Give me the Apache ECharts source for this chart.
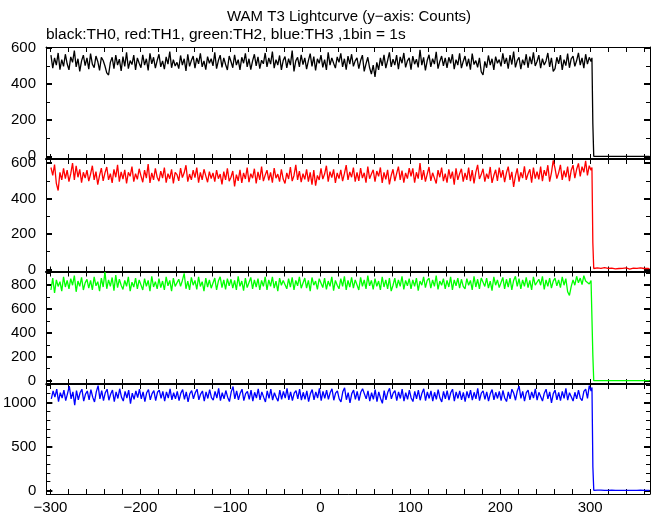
<!DOCTYPE html>
<html><head><meta charset="utf-8">
<script src="https://cdn.jsdelivr.net/npm/echarts@6/dist/echarts.min.js"></script>
<style>html,body{margin:0;padding:0;background:#fff}#c{width:652px;height:515px}</style>
</head><body><div id="c"></div>
<script>
// Main part: bins from -299 s, values read every 2 s from the picture
const T_START = -299;
const T_STEP = 2;
// Tail times (s): end of the light curve, the drop, then the flat part
const tTail = [302,303,304,306,308,310,312,314,316,318,320,322,324,326,328,330,332,334,336,338,340,342,344,346,348,350,352,354,356,358,360,362,364,366];

// TH0 (black) counts
const th0 = [
560,488,545,505,572,480,535,498,565,512,
478,550,520,585,495,540,470,528,560,502,
545,482,568,510,490,555,525,475,548,530,
500,462,450,520,548,485,560,505,538,472,
552,498,575,485,530,508,560,478,545,515,
490,562,505,540,475,570,512,548,488,530,
565,495,528,482,550,510,580,490,535,500,
520,485,558,505,540,472,565,498,530,555,
488,545,512,570,495,528,480,552,515,540,
500,575,485,530,560,492,545,508,478,555,
525,490,562,505,535,478,548,515,570,495,
540,480,528,565,500,550,485,532,512,572,
495,545,510,580,488,535,505,558,478,530,
552,490,540,505,585,470,528,548,495,562,
508,545,482,530,568,498,552,475,540,515,
560,492,535,478,575,505,545,515,488,550,
520,570,495,540,480,555,510,565,498,528,
545,485,530,560,470,512,548,490,455,505,
440,520,478,545,500,562,488,530,575,495,
538,505,560,482,550,515,572,492,528,545,
480,555,510,538,492,590,505,548,475,530,
562,495,540,510,578,485,525,555,500,545,
490,548,515,565,482,535,505,570,488,525,
555,498,540,480,568,508,530,492,545,468,
450,525,490,558,505,540,478,552,515,535,
498,570,512,545,485,560,508,580,492,530,
548,482,535,505,565,490,552,510,575,500,
525,560,488,540,505,528,572,495,545,470,
485,548,512,560,478,535,502,568,490,540,
555,498,530,572,505,545,488,565,510,548,
525
];
const th0Tail = [545,180,0,0,0,0,0,0,0,0,0,0,0,0,0,0,0,0,0,0,0,0,0,0,0,0,0,0,0,0,0,0,0,0];

// TH1 (red) counts
const th1 = [
575,530,592,485,445,548,505,570,512,560,
495,540,600,505,585,520,565,490,548,515,
560,498,538,585,505,552,478,530,572,500,
545,578,505,540,488,565,520,590,495,550,
510,562,485,548,525,580,495,540,508,568,
528,492,560,515,595,488,545,505,570,520,
498,555,515,575,490,540,512,565,485,548,
535,500,572,518,545,588,495,538,505,560,
518,575,490,548,505,565,528,492,552,512,
545,495,560,512,538,480,552,505,570,498,
520,555,468,535,500,562,488,545,510,575,
492,540,515,568,485,550,505,580,498,532,
560,502,548,490,572,515,538,495,565,510,
485,545,510,578,498,530,590,505,555,492,
540,508,565,495,548,478,560,472,530,505,
570,510,538,585,495,552,518,565,488,545,
512,562,498,540,588,505,550,520,575,495,
548,500,572,515,545,490,580,512,538,562,
495,555,525,575,488,548,508,562,480,530,
565,498,540,580,505,558,490,545,512,572,
525,570,490,548,512,600,505,560,495,538,
578,500,545,515,485,560,520,575,498,540,
490,565,512,552,478,570,505,540,568,495,
545,505,575,498,560,485,548,590,510,535,
568,495,540,512,578,488,530,562,500,575,
518,560,492,545,580,505,550,465,528,570,
495,548,515,582,505,540,565,490,575,512,
552,508,580,498,560,528,588,495,545,615,
570,512,545,590,505,558,520,580,498,560,
588,515,565,598,525,580,548,612,530,585,
560
];
const th1Tail = [575,150,5,3,8,2,6,4,10,3,5,2,7,4,3,9,5,2,6,3,8,4,2,5,7,3,6,4,9,3,5,2,6,4];

// TH2 (green) counts
const th2 = [
760,860,735,845,790,830,750,870,785,840,
770,855,800,880,745,835,790,865,760,820,
850,775,840,760,870,795,830,750,860,785,
910,770,845,790,865,755,885,780,850,800,
765,840,790,870,750,825,785,860,770,845,
830,760,855,790,840,750,875,785,830,770,
855,780,835,760,870,795,840,750,860,790,
775,850,790,840,900,770,835,760,865,800,
840,765,870,790,830,750,860,785,845,775,
790,860,760,835,870,780,845,765,855,795,
850,775,840,760,875,790,835,755,860,780,
795,865,770,845,785,855,760,840,790,870,
760,845,790,870,775,835,750,860,800,840,
830,770,855,785,865,760,840,795,870,775,
790,860,775,840,750,865,800,835,765,855,
845,780,860,765,835,790,870,755,840,800,
770,855,790,875,760,840,785,865,775,845,
835,760,865,790,845,770,880,795,840,765,
855,790,835,760,870,785,845,770,860,750,
800,860,775,845,790,875,765,840,795,855,
770,845,790,860,755,835,800,870,780,840,
860,775,845,790,880,765,835,800,855,770,
840,785,870,760,845,795,860,775,850,790,
770,855,800,840,760,875,785,850,770,860,
845,790,860,775,835,755,870,800,845,780,
795,865,770,850,785,860,760,840,875,790,
855,770,845,790,865,780,840,760,870,800,
785,850,800,875,765,845,790,860,775,835,
860,795,845,780,870,800,855,745,715,790,
845,800,875,820,860,805,880,835,850,810,
840
];
const th2Tail = [830,214,0,0,0,0,0,0,0,0,0,0,0,0,0,0,0,0,0,0,0,0,0,0,0,0,0,0,0,0,0,0,0,0];

// TH3 (blue) counts
const th3 = [
1040,1130,1060,1150,1010,1110,1050,1140,1020,1100,
1185,1040,1120,970,1135,1030,1110,1150,1015,1095,
1130,1030,1145,1060,1005,1120,1190,1040,1135,1020,
1110,1150,1025,1095,1140,1010,1120,1045,1155,1060,
1015,1125,1050,1140,985,1105,1035,1130,1055,1150,
1040,1120,1010,1110,1145,1030,1100,1135,1020,1115,
1140,1045,1125,1015,1120,1050,1155,1030,1110,1040,
1125,1020,1105,1145,1035,1120,1005,1100,1135,1040,
1110,1150,1030,1095,1130,1015,1120,1045,1145,1055,
1025,1125,1050,1160,1020,1110,1040,1135,1060,1010,
1120,1180,1040,1130,1030,1105,1150,1020,1100,1125,
1035,1140,1015,1115,1050,1155,1030,1120,1060,1005,
1130,1045,1150,1025,1110,1055,1015,1140,1035,1125,
1050,1160,1030,1120,1020,1105,1135,1040,1150,1025,
1115,1035,1130,1010,1100,1145,1030,1120,1050,1160,
1020,1125,1045,1140,1035,1110,1155,1025,1105,1130,
1040,1005,1120,1165,1030,1110,995,1100,1140,1035,
1125,1020,1115,1155,1175,1040,1130,1015,1110,1035,
1145,1010,1120,1045,990,1135,1030,1115,1160,1040,
1105,1135,1020,1120,1045,1150,1015,1110,1035,1140,
1050,1010,1125,1040,1140,1025,1105,1155,1020,1120,
1045,1130,1015,1115,1035,1145,1050,1005,1125,1040,
1135,1025,1110,1150,1015,1120,1045,1130,1030,1115,
1010,1125,1050,1140,1025,1115,1040,1160,1020,1105,
1130,1035,1120,1015,1100,1145,1030,1115,1045,1125,
1020,1135,1050,1010,1120,1040,1150,1105,1025,1130,
1185,1045,1125,1015,1110,1140,1030,1120,1050,1155,
1025,1115,1135,1015,1105,1150,1040,1120,995,1100,
1140,1030,1115,1020,1125,1045,1160,1025,1110,1130,
1015,1115,1040,1140,1050,1020,1125,1150,1045,1190,
1130
];
const th3Tail = [1170,267,3,2,4,3,5,2,3,4,2,3,5,3,2,4,3,2,3,5,2,4,3,2,3,4,2,3,5,2,3,4,3,2];

// Axis ranges / tick values
const X_MIN = -304.5, X_MAX = 366.5;
const xTicks = [-300,-280,-260,-240,-220,-200,-180,-160,-140,-120,-100,-80,-60,-40,-20,0,20,40,60,80,100,120,140,160,180,200,220,240,260,280,300,320,340,360];
const xLabels = [-300,-200,-100,0,100,200,300];

const yRanges = [[-15,605],[-12,623],[-28,915],[-39,1209]];
const yMajor = [[0,200,400,600],[0,200,400,600],[0,200,400,600,800],[0,500,1000]];
const yMinor = [[100,300,500],[100,300,500],[100,300,500,700,900],[100,200,300,400,600,700,800,900,1100,1200]];

const seriesNames = ['TH0','TH1','TH2','TH3'];
const seriesColors = ['#000000','#ff0000','#00ff00','#0000ff'];
const seriesMain = [th0, th1, th2, th3];
const seriesTail = [th0Tail, th1Tail, th2Tail, th3Tail];

// layout
const gridTops = [47, 159, 271.5, 384];
const gridHeights = [112, 112.5, 112.5, 112];
const FONT = '"Liberation Sans", Arial, sans-serif';

const grid = [], xAxis = [], yAxis = [], series = [];
for (let i = 0; i < 4; i++) {
  grid.push({left: 46, width: 604, top: gridTops[i], height: gridHeights[i], containLabel: false});
  ['bottom','top'].forEach(pos => {
    const w = (pos === 'top' && i > 0) ? 2 : 1;
    xAxis.push({
      type: 'value', gridIndex: i, position: pos, min: X_MIN, max: X_MAX,
      axisLine: {show: true, onZero: false, lineStyle: {color: '#000', width: w}}, splitLine: {show: false},
      axisTick: {show: true, inside: true, length: 5, customValues: xTicks, lineStyle: {color: '#000'}},
      axisLabel: {show: (i === 3 && pos === 'bottom'), customValues: xLabels, margin: 6,
        color: '#000', fontFamily: FONT, fontSize: 15,
        formatter: v => String(v).replace('-', '\u2212')}
    });
  });
  ['left','right'].forEach(pos => {
    yAxis.push({
      type: 'value', gridIndex: i, position: pos, min: yRanges[i][0], max: yRanges[i][1],
      axisLine: {show: true, onZero: false, lineStyle: {color: '#000', width: 1}}, splitLine: {show: false},
      axisTick: {show: true, inside: true, length: 6, customValues: yMajor[i], lineStyle: {color: '#000', width: 2}},
      axisLabel: {show: pos === 'left', customValues: yMajor[i], margin: 10,
        color: '#000', fontFamily: FONT, fontSize: 15, formatter: v => String(v)}
    });
    yAxis.push({
      type: 'value', gridIndex: i, position: pos, min: yRanges[i][0], max: yRanges[i][1],
      axisLine: {show: false, onZero: false}, splitLine: {show: false},
      axisTick: {show: true, inside: true, length: 4, customValues: yMinor[i], lineStyle: {color: '#000', width: 1}},
      axisLabel: {show: false}
    });
  });
  const pts = seriesMain[i].map((v, k) => [T_START + T_STEP * k, v])
    .concat(seriesTail[i].map((v, k) => [tTail[k], v]));
  series.push({
    name: seriesNames[i], type: 'line', xAxisIndex: 2 * i, yAxisIndex: 4 * i,
    data: pts, showSymbol: false, symbol: 'none', silent: true,
    lineStyle: {color: seriesColors[i], width: 1.3, join: 'bevel'}, itemStyle: {color: seriesColors[i]}
  });
}

const chart = echarts.init(document.getElementById('c'), null, {renderer: 'canvas'});
chart.setOption({
  animation: false,
  backgroundColor: '#ffffff',
  grid, xAxis, yAxis, series,
  graphic: [
    {type: 'text', x: 349, y: 17, style: {text: 'WAM T3 Lightcurve (y\u2212axis: Counts)', fill: '#000',
      font: '15px "Liberation Sans", Arial, sans-serif', textAlign: 'center', textVerticalAlign: 'middle'}},
    {type: 'text', x: 46, y: 35, style: {text: 'black:TH0, red:TH1, green:TH2, blue:TH3 ,1bin = 1s', fill: '#000',
      font: '15.5px "Liberation Sans", Arial, sans-serif', textAlign: 'left', textVerticalAlign: 'middle'}}
  ]
});
</script>
</body></html>
